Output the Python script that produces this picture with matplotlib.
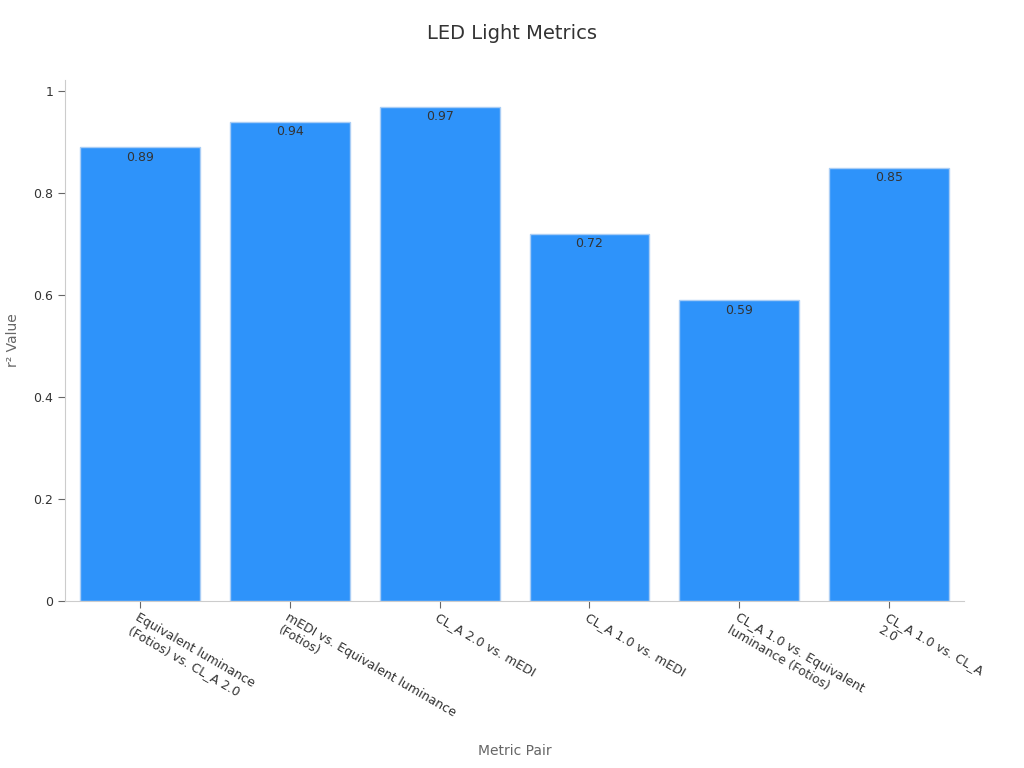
import matplotlib
matplotlib.use("Agg")

import matplotlib.pyplot as plt
from matplotlib.ticker import FuncFormatter

# ───────────────────────── Data ────────────────────────────────────────────
PAIRS = [
    "Equivalent luminance\n(Fotios) vs. CL_A 2.0",
    "mEDI vs. Equivalent luminance\n(Fotios)",
    "CL_A 2.0 vs. mEDI",
    "CL_A 1.0 vs. mEDI",
    "CL_A 1.0 vs. Equivalent\nluminance (Fotios)",
    "CL_A 1.0 vs. CL_A\n2.0",
]
R2_VALUES = [0.89, 0.94, 0.97, 0.72, 0.59, 0.85]
Y_TICKS = [0, 0.2, 0.4, 0.6, 0.8, 1.0]

# ───────────────────────── Style ───────────────────────────────────────────
BAR_COLOR = "#2E93FA"
BAR_EDGE = "#A9CDF5"
AXIS_GREY = "#CCCCCC"
TEXT_DARK = "#333333"
LABEL_GREY = "#666666"


def _fmt(v, _pos):
    return f"{v:g}"


fig = plt.figure(figsize=(10.24, 7.68), dpi=100)
ax = fig.add_axes([0.0635, 0.2174, 0.878, 0.6784])

x = list(range(len(PAIRS)))
bars = ax.bar(x, R2_VALUES, width=0.8, color=BAR_COLOR,
              edgecolor=BAR_EDGE, linewidth=1)

for rect, v in zip(bars, R2_VALUES):
    ax.annotate(f"{v:.2f}", xy=(rect.get_x() + rect.get_width() / 2, v),
                xytext=(0, -2.5), textcoords="offset points",
                ha="center", va="top", fontsize=9, color=TEXT_DARK)

ax.set_xlim(-0.5, 5.5)
ax.set_ylim(0, 1.022)
ax.set_yticks(Y_TICKS)
ax.yaxis.set_major_formatter(FuncFormatter(_fmt))
ax.set_xticks(x)
ax.set_xticklabels(PAIRS, rotation=-30, ha="left", va="top",
                   rotation_mode="anchor", fontsize=9, color=TEXT_DARK)
ax.tick_params(axis="y", labelsize=9, labelcolor=TEXT_DARK,
               color=LABEL_GREY, length=5)
ax.tick_params(axis="x", color=LABEL_GREY, length=5, pad=2)

for side in ("top", "right"):
    ax.spines[side].set_visible(False)
for side in ("left", "bottom"):
    ax.spines[side].set_color(AXIS_GREY)

ax.set_xlabel("Metric Pair", fontsize=10, color=LABEL_GREY, labelpad=0)
ax.xaxis.set_label_coords(0.5, -0.274)
ax.set_ylabel("r² Value", fontsize=10, color=LABEL_GREY)
ax.yaxis.set_label_coords(-0.050, 0.5)

fig.text(0.5, 0.957, "LED Light Metrics", ha="center", va="center",
         fontsize=14, color=TEXT_DARK)

fig.savefig("out.png", dpi=100)
plt.close(fig)
